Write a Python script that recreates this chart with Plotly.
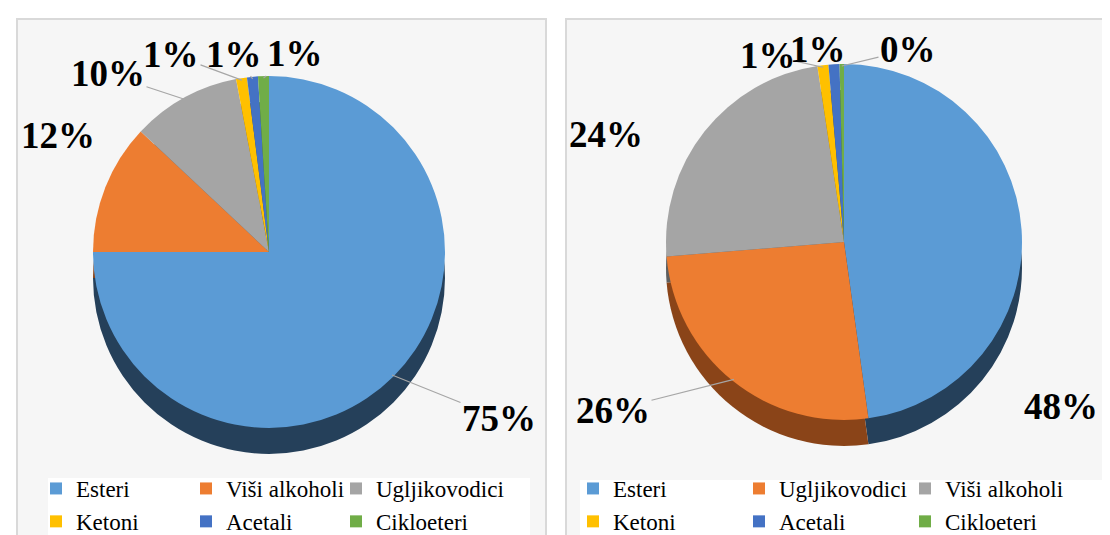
import math
import plotly.graph_objects as go

# ---------------- data ----------------
left_labels = ["Esteri", "Viši alkoholi", "Ugljikovodici", "Ketoni", "Acetali", "Cikloeteri"]
left_values = [75, 12, 10, 1, 1, 1]

right_labels = ["Esteri", "Ugljikovodici", "Viši alkoholi", "Ketoni", "Acetali", "Cikloeteri"]
right_values = [48, 26, 24, 1, 1, 0.4]

slice_colors = ["#5B9BD5", "#ED7D31", "#A5A5A5", "#FFC000", "#4472C4", "#70AD47"]
depth_colors = ["#25405A", "#8A4418", "#5E5E5E", "#8F6B00", "#25406E", "#3E6128"]

W, H = 1110, 535
FONT = "Liberation Serif, Times New Roman, serif"
LABEL_SIZE = 37
DEPTH = 26


def px_dom(cx, cy, r, dy=0):
    x = [(cx - r) / W, (cx + r) / W]
    y = [(H - (cy + r + dy)) / H, (H - (cy - r + dy)) / H]
    return dict(x=x, y=y)


fig = go.Figure()

# label layout per panel: (text centre x, y in px, draw leader line?)
panels = [
    dict(labels=left_labels, values=left_values, cx=261, cy=244, r=176,
         label_pos=[(491, 410, True), (50, 128, False), (100, 66, True),
                    (163, 46, True), (226, 46, True), (287, 46, True)],
         legend_cols=[28, 178, 328], legend_top=459, legend_names=["legend", "legend2", "legend3"],
         legend_bg=(40, 522, 470)),
    dict(labels=right_labels, values=right_values, cx=836, cy=234, r=178,
         label_pos=[(1053, 398, False), (605, 402, True), (598, 126, False),
                    (760, 47, True), (810, 42, True), (900, 42, True)],
         legend_cols=[565, 731, 897], legend_top=459, legend_names=["legend4", "legend5", "legend6"],
         legend_bg=(572, 1097, 472)),
]

annotations = []
shapes = [
    dict(type="rect", xref="paper", yref="paper", x0=9 / W, x1=538 / W, y0=-0.05, y1=(H - 11) / H,
         fillcolor="#F6F6F6", line=dict(color="#D9D9D9", width=2), layer="below"),
    dict(type="rect", xref="paper", yref="paper", x0=558 / W, x1=1107 / W, y0=-0.05, y1=(H - 11) / H,
         fillcolor="#F6F6F6", line=dict(color="#D9D9D9", width=2), layer="below"),
]
legends = {}

for p in panels:
    vals = p["values"]
    total = sum(vals)
    # depth (extrusion) layer
    fig.add_trace(go.Pie(
        labels=p["labels"], values=vals, sort=False, direction="clockwise", rotation=0,
        marker=dict(colors=depth_colors, line=dict(width=0)),
        textinfo="none", hoverinfo="skip", showlegend=False,
        domain=px_dom(p["cx"], p["cy"], p["r"], dy=DEPTH),
    ))
    # top face
    fig.add_trace(go.Pie(
        labels=p["labels"], values=vals, sort=False, direction="clockwise", rotation=0,
        marker=dict(colors=slice_colors, line=dict(width=0)),
        textinfo="none", showlegend=False,
        domain=px_dom(p["cx"], p["cy"], p["r"]),
    ))
    # percentage labels
    cum = 0
    for v, (lx, ly, leader) in zip(vals, p["label_pos"]):
        mid = (cum + v / 2) / total * 2 * math.pi
        cum += v
        txt = f"{v / total:.0%}"
        font = dict(family=FONT, size=LABEL_SIZE, color="black", weight="bold")
        if leader:
            tx = p["cx"] + (p["r"] - 2) * math.sin(mid)
            ty = p["cy"] - (p["r"] - 2) * math.cos(mid)
            annotations.append(dict(
                x=tx / W, y=(H - ty) / H, xref="paper", yref="paper",
                ax=lx - tx, ay=ly - ty, axref="pixel", ayref="pixel",
                text=txt, showarrow=True, arrowhead=0, arrowwidth=1.2,
                arrowcolor="#A6A6A6", standoff=0, font=font,
            ))
        else:
            annotations.append(dict(
                x=lx / W, y=(H - ly) / H, xref="paper", yref="paper",
                xanchor="center", yanchor="middle",
                text=txt, showarrow=False, font=font,
            ))

    # legend: three columns, two rows
    bx0, bx1, by0 = p["legend_bg"]
    shapes.append(dict(type="rect", xref="paper", yref="paper", x0=bx0 / W, x1=bx1 / W,
                       y0=-0.05, y1=(H - by0) / H, fillcolor="white",
                       line=dict(width=0), layer="below"))
    for i, name in enumerate(p["labels"]):
        fig.add_trace(go.Scatter(
            x=[None], y=[None], mode="markers", name=name,
            marker=dict(symbol="square", size=12, color=slice_colors[i]),
            legend=p["legend_names"][i % 3], hoverinfo="skip",
        ))
    for c, lname in enumerate(p["legend_names"]):
        legends[lname] = dict(
            x=p["legend_cols"][c] / W, y=(H - p["legend_top"]) / H,
            xanchor="left", yanchor="top", orientation="v",
            bgcolor="rgba(0,0,0,0)", font=dict(family=FONT, size=23, color="black"),
            itemclick=False, itemdoubleclick=False, tracegroupgap=0,
        )

fig.update_layout(
    width=W, height=H,
    margin=dict(l=0, r=0, t=0, b=0, autoexpand=False),
    paper_bgcolor="white", plot_bgcolor="rgba(0,0,0,0)",
    xaxis=dict(visible=False), yaxis=dict(visible=False),
    shapes=shapes, annotations=annotations,
    **legends,
)

fig.write_html("out.html")
